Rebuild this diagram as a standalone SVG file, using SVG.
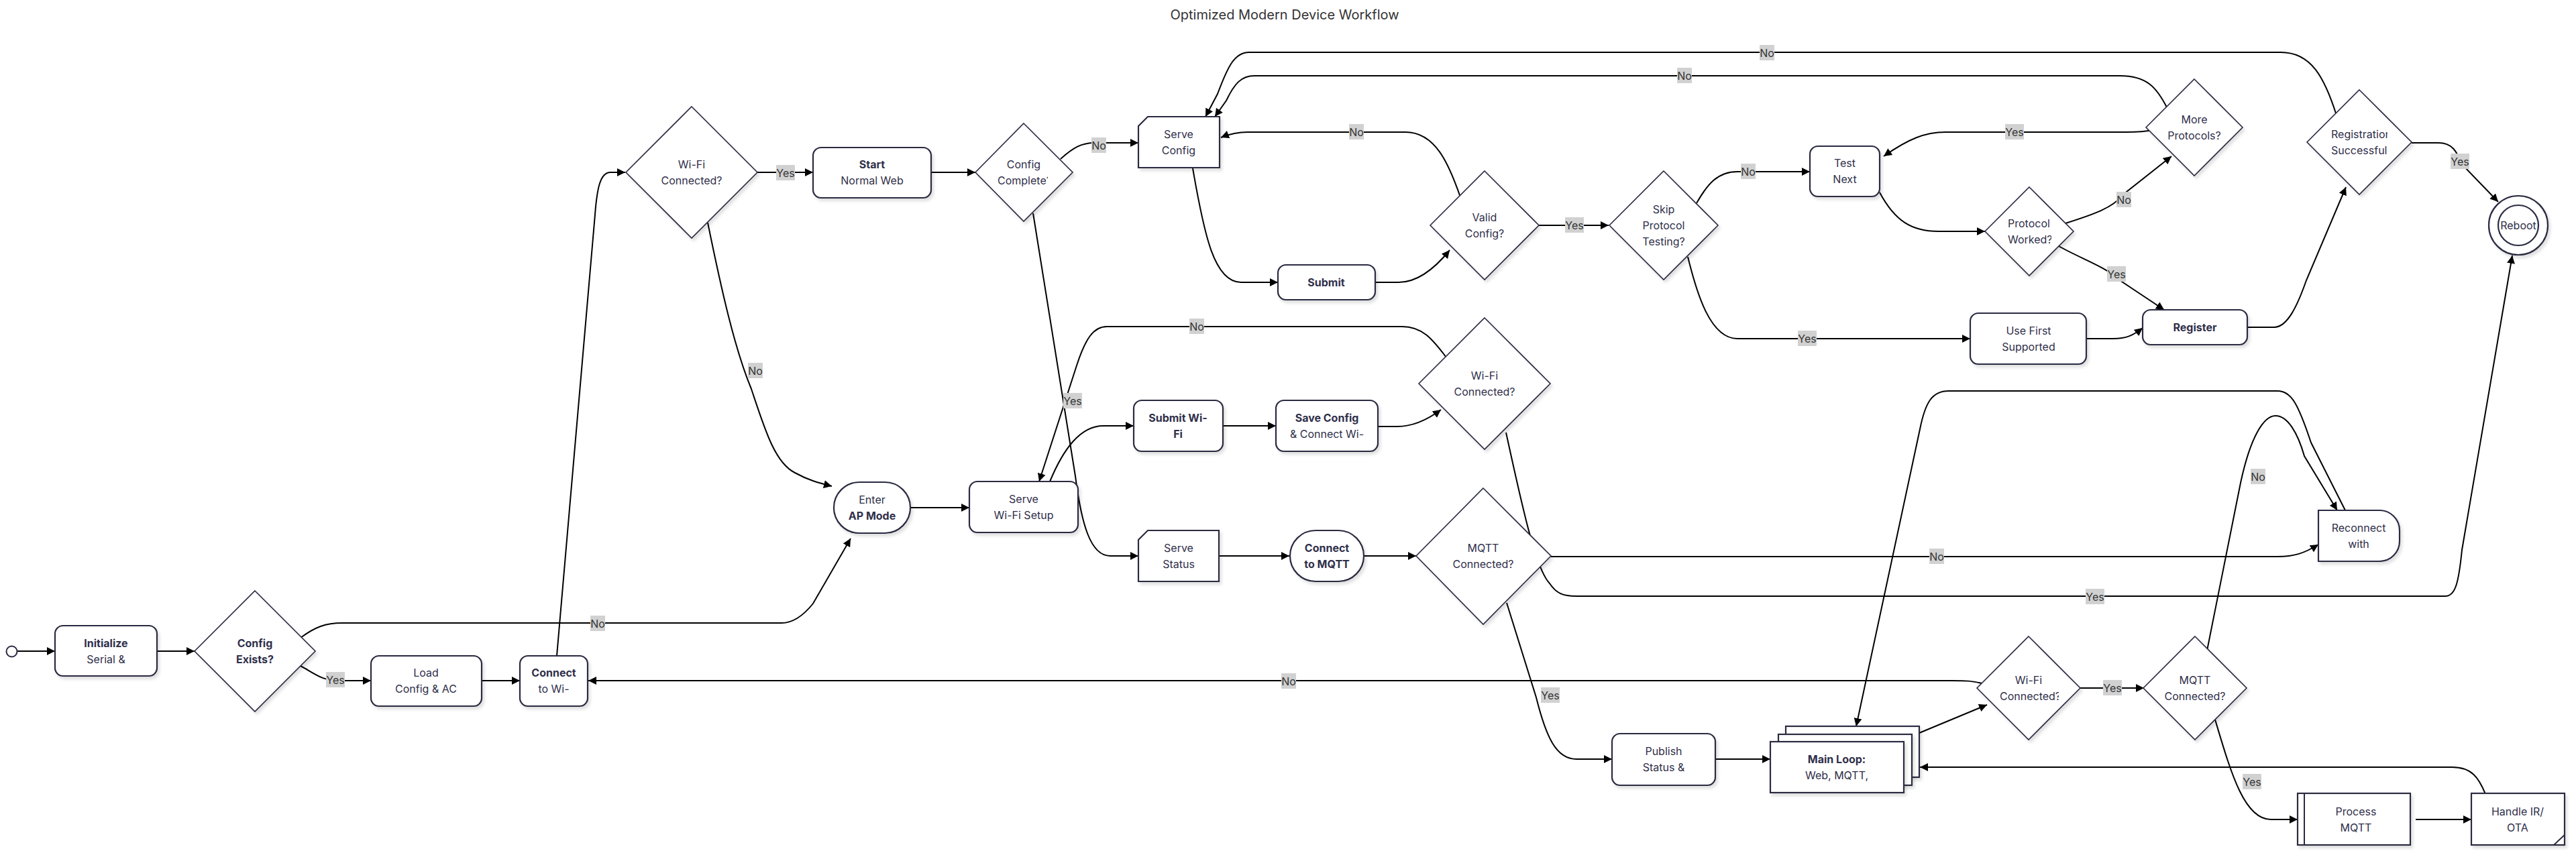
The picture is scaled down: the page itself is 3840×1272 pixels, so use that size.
<svg xmlns="http://www.w3.org/2000/svg" width="3840" height="1272" viewBox="0 0 3840 1272">
<defs>
<style>
.n{fill:#fff;stroke:#2a2a42;stroke-width:2.2;filter:url(#sh)}
.d{fill:#fff;stroke:#2a2a42;stroke-width:1.6;filter:url(#sh)}
.t{font-family:Inter,"Liberation Sans",sans-serif;font-size:16px;fill:#2f2f4a;text-anchor:middle;dominant-baseline:central}
.s{text-anchor:start}
.b{font-weight:700}
.e{fill:none;stroke:#000;stroke-width:2}
.ea{fill:none;stroke:#000;stroke-width:2;marker-end:url(#ah)}
.lr{fill:#d1d1d1}
.lt{font-family:Inter,"Liberation Sans",sans-serif;font-size:16px;fill:#333;text-anchor:middle;dominant-baseline:central}
.title{font-family:Inter,"Liberation Sans",sans-serif;font-size:20px;fill:#333;text-anchor:middle;dominant-baseline:central}
</style>
<marker id="ah" viewBox="0 0 10 10" refX="10" refY="5" markerWidth="12" markerHeight="12" markerUnits="userSpaceOnUse" orient="auto">
<path d="M0,0 L10,5 L0,10 z" fill="#000"/>
</marker>
<filter id="sh" x="-20%" y="-20%" width="140%" height="140%">
<feDropShadow dx="3" dy="4" stdDeviation="2" flood-color="#000" flood-opacity="0.12"/>
</filter>
<clipPath id="cpComplete"><rect x="1470" y="240" width="92" height="40"/></clipPath>
<clipPath id="cpReg"><rect x="3470" y="185" width="89" height="55"/></clipPath>
<clipPath id="cpWorked"><rect x="2985" y="318" width="73" height="55"/></clipPath>
<clipPath id="cpConn3"><rect x="2975" y="1000" width="94" height="50"/></clipPath>
<clipPath id="cpReboot"><circle cx="3754" cy="336" r="29"/></clipPath>
</defs>
<rect width="3840" height="1272" fill="#fff"/>
<text class="title" x="1915" y="22">Optimized Modern Device Workflow</text>

<g id="edges">
<path class="ea" d="M26,971 L82,971"/>
<path class="ea" d="M234,971 L290,971"/>
<path class="ea" d="M448,993 C470,1005 480,1015 505,1015 L553,1015"/>
<path class="ea" d="M448,951 C470,935 485,929 510,929 L1165,929 C1185,929 1200,915 1212,900 L1268,803"/>
<path class="ea" d="M718,1015 L775,1015"/>
<path class="ea" d="M830,978 L887,320 C890,280 895,257 910,257 L932,257"/>
<path class="ea" d="M1129,257 L1212,257"/>
<path class="ea" d="M1055,332 C1075,430 1095,520 1120,580 C1140,640 1155,690 1185,705 C1205,716 1220,720 1240,725"/>
<path class="ea" d="M1388,257 L1454,257"/>
<path class="ea" d="M1581,237 C1600,220 1612,213 1632,213 L1697,213"/>
<path class="ea" d="M1540,318 L1603,710 C1612,780 1625,829 1655,829 L1697,829"/>
<path class="ea" d="M1357,757 L1445,757"/>
<path class="ea" d="M1565,718 C1585,670 1610,635 1645,635 L1690,635"/>
<path class="ea" d="M1823,635 L1902,635"/>
<path class="ea" d="M2054,636 L2083,636 C2105,636 2125,628 2148,611"/>
<path class="ea" d="M2156,533 C2135,505 2120,487 2090,487 L1650,487 C1630,487 1618,505 1605,545 L1549,718"/>
<path class="ea" d="M2245,645 C2270,760 2290,850 2310,870 C2320,885 2330,889 2350,889 L3645,889 C3660,889 3665,870 3670,820 L3745,381"/>
<path class="ea" d="M1817,829 L1922,829"/>
<path class="ea" d="M2033,829 L2111,829"/>
<path class="ea" d="M2312,830 L3395,830 C3420,830 3435,825 3456,812"/>
<path class="ea" d="M2246,899 L2290,1040 C2305,1100 2320,1132 2350,1132 L2403,1132"/>
<path class="ea" d="M2557,1132 L2639,1132"/>
<path class="ea" d="M2861,1093 L2962,1051"/>
<path class="ea" d="M3101,1026 L3196,1026"/>
<path class="ea" d="M2958,1020 C2940,1015 2930,1015 2910,1015 L877,1015"/>
<path class="ea" d="M3290,970 L3340,720 C3355,650 3375,620 3392,620 C3410,620 3425,645 3435,680 L3484,761"/>
<path class="ea" d="M3496,761 L3445,660 C3425,600 3415,583 3395,583 L2905,583 C2880,583 2870,600 2862,640 L2767,1083"/>
<path class="ea" d="M3302,1073 C3325,1150 3345,1222 3385,1222 L3425,1222"/>
<path class="ea" d="M3601,1222 L3684,1222"/>
<path class="ea" d="M3705,1184 C3695,1160 3685,1144 3655,1144 L2862,1144"/>
<path class="ea" d="M1778,251 C1795,350 1810,421 1850,421 L1905,421"/>
<path class="ea" d="M2050,421 L2085,421 C2110,421 2135,405 2161,373"/>
<path class="ea" d="M2177,294 C2160,245 2140,197 2095,197 L1860,197 C1845,197 1835,199 1820,205"/>
<path class="ea" d="M2294,336 L2398,336"/>
<path class="ea" d="M2529,303 C2545,275 2560,256 2590,256 L2698,256"/>
<path class="ea" d="M2516,383 C2530,440 2550,505 2590,505 L2937,505"/>
<path class="ea" d="M3110,505 L3150,505 C3170,505 3180,500 3194,489"/>
<path class="ea" d="M2802,287 C2825,330 2850,345 2890,345 L2959,345"/>
<path class="ea" d="M3079,333 C3120,320 3150,310 3165,290 L3237,233"/>
<path class="ea" d="M3069,367 C3100,385 3140,398 3160,418 L3226,462"/>
<path class="ea" d="M3208,194 C3195,197 3185,197 3170,197 L2900,197 C2870,197 2845,207 2808,233"/>
<path class="ea" d="M3231,162 C3215,130 3200,113 3160,113 L1870,113 C1850,113 1840,125 1828,150 L1811,174"/>
<path class="ea" d="M3483,172 C3465,115 3445,78 3400,78 L1862,78 C1840,78 1830,100 1815,140 L1797,174"/>
<path class="ea" d="M3350,488 L3390,488 C3410,488 3425,455 3438,418 L3497,279"/>
<path class="ea" d="M3595,213 L3635,213 C3655,213 3662,225 3670,245 L3724,301"/>
</g>

<g id="edge-labels">
<rect class="lr" x="486" y="1002" width="28" height="23"/><text class="lt" x="500" y="1013.5">Yes</text>
<rect class="lr" x="880" y="918" width="22" height="23"/><text class="lt" x="891" y="929.5">No</text>
<rect class="lr" x="1157" y="246" width="28" height="23"/><text class="lt" x="1171" y="257.5">Yes</text>
<rect class="lr" x="1115" y="541" width="22" height="23"/><text class="lt" x="1126" y="552.5">No</text>
<rect class="lr" x="1627" y="205" width="22" height="23"/><text class="lt" x="1638" y="216.5">No</text>
<rect class="lr" x="1585" y="586" width="28" height="23"/><text class="lt" x="1599" y="597.5">Yes</text>
<rect class="lr" x="1773" y="475" width="22" height="23"/><text class="lt" x="1784" y="486.5">No</text>
<rect class="lr" x="3109" y="878" width="28" height="23"/><text class="lt" x="3123" y="889.5">Yes</text>
<rect class="lr" x="2876" y="818" width="22" height="23"/><text class="lt" x="2887" y="829.5">No</text>
<rect class="lr" x="2297" y="1025" width="28" height="23"/><text class="lt" x="2311" y="1036.5">Yes</text>
<rect class="lr" x="3135" y="1014" width="28" height="23"/><text class="lt" x="3149" y="1025.5">Yes</text>
<rect class="lr" x="1910" y="1004" width="22" height="23"/><text class="lt" x="1921" y="1015.5">No</text>
<rect class="lr" x="3355" y="699" width="22" height="23"/><text class="lt" x="3366" y="710.5">No</text>
<rect class="lr" x="3343" y="1154" width="28" height="23"/><text class="lt" x="3357" y="1165.5">Yes</text>
<rect class="lr" x="2011" y="185" width="22" height="23"/><text class="lt" x="2022" y="196.5">No</text>
<rect class="lr" x="2333" y="324" width="28" height="23"/><text class="lt" x="2347" y="335.5">Yes</text>
<rect class="lr" x="2595" y="244" width="22" height="23"/><text class="lt" x="2606" y="255.5">No</text>
<rect class="lr" x="2680" y="493" width="28" height="23"/><text class="lt" x="2694" y="504.5">Yes</text>
<rect class="lr" x="3155" y="286" width="22" height="23"/><text class="lt" x="3166" y="297.5">No</text>
<rect class="lr" x="3141" y="397" width="28" height="23"/><text class="lt" x="3155" y="408.5">Yes</text>
<rect class="lr" x="2989" y="185" width="28" height="23"/><text class="lt" x="3003" y="196.5">Yes</text>
<rect class="lr" x="2500" y="101" width="22" height="23"/><text class="lt" x="2511" y="112.5">No</text>
<rect class="lr" x="2623" y="67" width="22" height="23"/><text class="lt" x="2634" y="78.5">No</text>
<rect class="lr" x="3653" y="229" width="28" height="23"/><text class="lt" x="3667" y="240.5">Yes</text>
</g>

<g id="start"><circle cx="17.5" cy="971.5" r="8" fill="#fff" stroke="#2a2a42" stroke-width="2"/></g>

<g id="initialize"><rect class="n" x="82" y="933" width="152" height="75" rx="12"/>
<text class="t b" x="158" y="959">Initialize</text><text class="t" x="158" y="983">Serial &amp;</text></g>

<g id="config-exists"><polygon class="d" points="380,881 470,971 380,1061 290,971"/>
<text class="t b" x="380" y="959">Config</text><text class="t b" x="380" y="983">Exists?</text></g>

<g id="load-config"><rect class="n" x="553" y="978" width="165" height="75" rx="12"/>
<text class="t" x="635" y="1003">Load</text><text class="t" x="635" y="1027">Config &amp; AC</text></g>

<g id="connect-wifi"><rect class="n" x="775" y="978" width="101" height="75" rx="12"/>
<text class="t b" x="825.5" y="1003">Connect</text><text class="t" x="825.5" y="1027">to Wi-</text></g>

<g id="wifi-connected-1"><polygon class="d" points="1031,159 1129,257 1031,355 933,257"/>
<text class="t" x="1031" y="245">Wi-Fi</text><text class="t" x="1031" y="269">Connected?</text></g>

<g id="start-web"><rect class="n" x="1212" y="220" width="176" height="75" rx="12"/>
<text class="t b" x="1300" y="245">Start</text><text class="t" x="1300" y="269">Normal Web</text></g>

<g id="config-complete"><polygon class="d" points="1526,184 1599,257 1526,330 1454,257"/>
<text class="t" x="1526" y="245">Config</text><text class="t s" x="1487" y="269" clip-path="url(#cpComplete)">Complete?</text></g>

<g id="serve-config"><path class="n" d="M1711,174 H1818 V250 H1697 V188 Z"/>
<text class="t" x="1757" y="200">Serve</text><text class="t" x="1757" y="224">Config</text></g>

<g id="submit"><rect class="n" x="1905" y="395" width="145" height="52" rx="12"/>
<text class="t b" x="1977" y="421">Submit</text></g>

<g id="valid-config"><polygon class="d" points="2213,255 2294,336 2213,417 2132,336"/>
<text class="t" x="2213" y="324">Valid</text><text class="t" x="2213" y="348">Config?</text></g>

<g id="skip-testing"><polygon class="d" points="2480,255 2561,336 2480,417 2399,336"/>
<text class="t" x="2480" y="312">Skip</text><text class="t" x="2480" y="336">Protocol</text><text class="t" x="2480" y="360">Testing?</text></g>

<g id="test-next"><rect class="n" x="2698" y="218" width="104" height="75" rx="12"/>
<text class="t" x="2750" y="243">Test</text><text class="t" x="2750" y="267">Next</text></g>

<g id="protocol-worked"><polygon class="d" points="3025,279 3091,345 3025,411 2959,345"/>
<text class="t s" x="2993" y="333" clip-path="url(#cpWorked)">Protocol</text><text class="t s" x="2993" y="357" clip-path="url(#cpWorked)">Worked?</text></g>

<g id="more-protocols"><polygon class="d" points="3271,118 3343,190 3271,262 3199,190"/>
<text class="t" x="3271" y="178">More</text><text class="t" x="3271" y="202">Protocols?</text></g>

<g id="registration-ok"><polygon class="d" points="3517,134 3595,212 3517,290 3439,212"/>
<text class="t s" x="3475" y="200" clip-path="url(#cpReg)">Registration</text><text class="t s" x="3475" y="224" clip-path="url(#cpReg)">Successful?</text></g>

<g id="reboot"><circle class="n" cx="3754" cy="336" r="44"/><circle cx="3754" cy="336" r="30" fill="none" stroke="#2a2a42" stroke-width="2.2"/>
<text class="t" x="3754" y="336" clip-path="url(#cpReboot)">Reboot</text></g>

<g id="use-first"><rect class="n" x="2937" y="467" width="173" height="76" rx="12"/>
<text class="t" x="3024" y="493">Use First</text><text class="t" x="3024" y="517">Supported</text></g>

<g id="register"><rect class="n" x="3194" y="462" width="156" height="52" rx="12"/>
<text class="t b" x="3272" y="488">Register</text></g>

<g id="enter-ap"><rect class="n" x="1243" y="719" width="114" height="76" rx="38"/>
<text class="t" x="1300" y="745">Enter</text><text class="t b" x="1300" y="769">AP Mode</text></g>

<g id="serve-wifi-setup"><rect class="n" x="1445" y="718" width="162" height="76" rx="12"/>
<text class="t" x="1526" y="744">Serve</text><text class="t" x="1526" y="768">Wi-Fi Setup</text></g>

<g id="submit-wifi"><rect class="n" x="1690" y="597" width="133" height="76" rx="12"/>
<text class="t b" x="1756" y="623">Submit Wi-</text><text class="t b" x="1756" y="647">Fi</text></g>

<g id="save-config"><rect class="n" x="1902" y="597" width="152" height="76" rx="12"/>
<text class="t b" x="1978" y="623">Save Config</text><text class="t" x="1978" y="647">&amp; Connect Wi-</text></g>

<g id="wifi-connected-2"><polygon class="d" points="2213,474 2311,572 2213,670 2115,572"/>
<text class="t" x="2213" y="560">Wi-Fi</text><text class="t" x="2213" y="584">Connected?</text></g>

<g id="serve-status"><path class="n" d="M1711,791 H1817 V867 H1697 V805 Z"/>
<text class="t" x="1757" y="817">Serve</text><text class="t" x="1757" y="841">Status</text></g>

<g id="connect-mqtt"><rect class="n" x="1923" y="791" width="110" height="76" rx="38"/>
<text class="t b" x="1978" y="817">Connect</text><text class="t b" x="1978" y="841">to MQTT</text></g>

<g id="mqtt-connected-1"><polygon class="d" points="2211,728 2312,829 2211,931 2111,829"/>
<text class="t" x="2211" y="817">MQTT</text><text class="t" x="2211" y="841">Connected?</text></g>

<g id="reconnect"><path class="n" d="M3456,761 H3547 A30,30 0 0 1 3577,791 V807 A30,30 0 0 1 3547,837 H3456 Z"/>
<text class="t" x="3516" y="787">Reconnect</text><text class="t" x="3516" y="811">with</text></g>

<g id="publish-status"><rect class="n" x="2403" y="1094" width="154" height="77" rx="12"/>
<text class="t" x="2480" y="1120">Publish</text><text class="t" x="2480" y="1144">Status &amp;</text></g>

<g id="main-loop">
<rect class="n" x="2662" y="1083" width="199" height="76"/>
<rect class="n" x="2651" y="1095" width="199" height="76"/>
<rect class="n" x="2639" y="1106" width="199" height="76"/>
<text class="t b" x="2738" y="1132">Main Loop:</text><text class="t" x="2738" y="1156">Web, MQTT,</text></g>

<g id="wifi-connected-3"><polygon class="d" points="3024,949 3101,1026 3024,1103 2947,1026"/>
<text class="t" x="3024" y="1014">Wi-Fi</text><text class="t s" x="2981" y="1038" clip-path="url(#cpConn3)">Connected?</text></g>

<g id="mqtt-connected-2"><polygon class="d" points="3272,949 3349,1026 3272,1103 3195,1026"/>
<text class="t" x="3272" y="1014">MQTT</text><text class="t" x="3272" y="1038">Connected?</text></g>

<g id="process-mqtt"><rect class="n" x="3425" y="1183" width="168" height="77"/>
<line x1="3435" y1="1183" x2="3435" y2="1260" stroke="#2a2a42" stroke-width="2"/>
<text class="t" x="3512" y="1210">Process</text><text class="t" x="3512" y="1234">MQTT</text></g>

<g id="handle-ir-ota"><rect class="n" x="3684" y="1183" width="139" height="77"/>
<path d="M3807,1260 L3823,1245" fill="none" stroke="#2a2a42" stroke-width="2"/>
<text class="t" x="3753" y="1210">Handle IR/</text><text class="t" x="3753" y="1234">OTA</text></g>
</svg>
